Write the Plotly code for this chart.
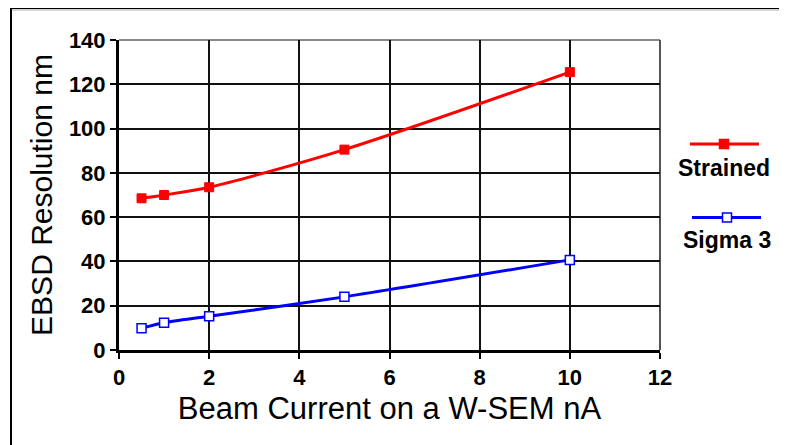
import plotly.graph_objects as go

beam_current = [0.5, 1, 2, 5, 10]
strained = [68.5, 70, 73.5, 90.5, 125.5]
sigma3 = [9.8, 12.3, 15.2, 24, 40.7]
series_names = ["Strained", "Sigma 3"]
x_ticks = [0, 2, 4, 6, 8, 10, 12]
y_ticks = [0, 20, 40, 60, 80, 100, 120, 140]

OFF = 8  # page body margin
W, H = 787, 445
L, T = 119 - OFF, 40 - OFF
PW, PH = 541, 310
R = W - L - PW
B = H - T - PH

def px(x):
    return (x - OFF - L) / PW

def py(y):
    return (T + PH - (y - OFF)) / PH

FONT = "Liberation Sans"

fig = go.Figure()
fig.add_trace(go.Scatter(
    x=beam_current, y=strained, name=series_names[0], mode="lines+markers",
    line=dict(color="#ff0000", width=3, shape="spline", smoothing=0.8),
    marker=dict(symbol="square", size=9, color="#ff0000", line=dict(color="#ff0000", width=1)),
    showlegend=False, cliponaxis=False,
))
fig.add_trace(go.Scatter(
    x=beam_current, y=sigma3, name=series_names[1], mode="lines+markers",
    line=dict(color="#0000ff", width=3, shape="spline", smoothing=0.8),
    marker=dict(symbol="square", size=9, color="#ffffff", line=dict(color="#0000ff", width=1.5)),
    showlegend=False, cliponaxis=False,
))

shapes = []
shapes.append(dict(type="line", xref="paper", yref="paper", x0=0, x1=1, y0=1, y1=1,
                   line=dict(color="#888888", width=2), layer="below"))
shapes.append(dict(type="line", xref="paper", yref="paper", x0=1, x1=1, y0=0, y1=1,
                   line=dict(color="#555555", width=2), layer="below"))
shapes.append(dict(type="line", xref="paper", yref="paper", x0=px(10), x1=px(800), y0=py(8), y1=py(8),
                   line=dict(color="#000000", width=2)))
shapes.append(dict(type="line", xref="paper", yref="paper", x0=px(11), x1=px(800), y0=py(10), y1=py(10),
                   line=dict(color="#aaaaaa", width=1)))
shapes.append(dict(type="line", xref="paper", yref="paper", x0=px(11), x1=px(11), y0=py(8), y1=py(460),
                   line=dict(color="#000000", width=2)))

legend_items = [
    (series_names[0], "#ff0000", "#ff0000", 144, 690, 759, 724, 168),
    (series_names[1], "#0000ff", "#ffffff", 217.5, 692, 761, 727, 240),
]
annotations = []
for name, col, fill, ly, lx0, lx1, mx, ty in legend_items:
    shapes.append(dict(type="line", xref="paper", yref="paper", x0=px(lx0), x1=px(lx1),
                       y0=py(ly), y1=py(ly), line=dict(color=col, width=3)))
    shapes.append(dict(type="rect", xref="paper", yref="paper", xsizemode="pixel", ysizemode="pixel",
                       xanchor=px(mx), yanchor=py(ly), x0=-4.5, x1=4.5, y0=-4.5, y1=4.5,
                       fillcolor=fill, line=dict(color=col, width=1.5)))
    annotations.append(dict(text="<b>%s</b>" % name, xref="paper", yref="paper", x=px(mx), y=py(ty),
                            showarrow=False, xanchor="center", yanchor="middle",
                            font=dict(family=FONT, size=23, color="#000000")))

fig.update_layout(
    width=W, height=H,
    margin=dict(l=L, r=R, t=T, b=B),
    paper_bgcolor="#ffffff", plot_bgcolor="#ffffff",
    shapes=shapes, annotations=annotations,
    font=dict(family=FONT, color="#000000"),
)
fig.update_xaxes(
    range=[0, 12], tickvals=x_ticks, ticktext=["<b>%d</b>" % v for v in x_ticks],
    showgrid=True, gridcolor="#111111", gridwidth=2,
    showline=True, linecolor="#000000", linewidth=3, zeroline=False,
    ticks="outside", ticklen=6, tickwidth=2, tickcolor="#000000",
    tickfont=dict(family=FONT, size=22, color="#000000"),
    title=dict(text="Beam Current on a W-SEM nA", font=dict(family=FONT, size=31, color="#000000"), standoff=8),
)
fig.update_yaxes(
    range=[0, 140], tickvals=y_ticks, ticktext=["<b>%d</b>" % v for v in y_ticks],
    showgrid=True, gridcolor="#111111", gridwidth=2,
    showline=True, linecolor="#000000", linewidth=3, zeroline=False,
    ticks="outside", ticklen=6, tickwidth=2, tickcolor="#000000",
    tickfont=dict(family=FONT, size=22, color="#000000"),
    title=dict(text="EBSD Resolution nm", font=dict(family=FONT, size=30, color="#000000"), standoff=8),
)

fig.write_html("out.html")
